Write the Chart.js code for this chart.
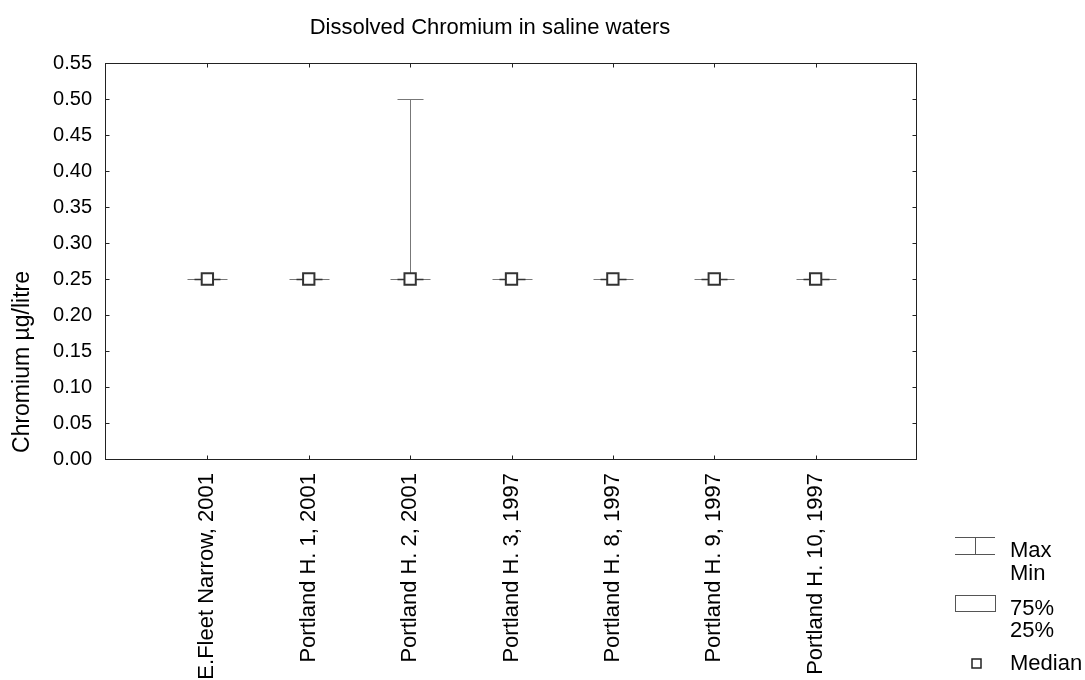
<!DOCTYPE html>
<html>
<head>
<meta charset="utf-8">
<script src="https://cdn.jsdelivr.net/npm/chart.js@4/dist/chart.umd.min.js"></script>
<style>
  html, body { margin: 0; padding: 0; background: #fff; }
  #wrap { width: 1085px; height: 680px; position: relative; }
</style>
</head>
<body>
<div id="wrap"><canvas id="c"></canvas></div>
<script>
// ---- data ----
const chartTitle = 'Dissolved Chromium in saline waters';
const yAxisTitle = 'Chromium µg/litre';
const categories = ['E.Fleet Narrow, 2001', 'Portland H. 1, 2001', 'Portland H. 2, 2001', 'Portland H. 3, 1997', 'Portland H. 8, 1997', 'Portland H. 9, 1997', 'Portland H. 10, 1997'];
const minVals    = [0.25, 0.25, 0.25, 0.25, 0.25, 0.25, 0.25];
const q1Vals     = [0.25, 0.25, 0.25, 0.25, 0.25, 0.25, 0.25];
const medianVals = [0.25, 0.25, 0.25, 0.25, 0.25, 0.25, 0.25];
const q3Vals     = [0.25, 0.25, 0.25, 0.25, 0.25, 0.25, 0.25];
const maxVals    = [0.25, 0.25, 0.50, 0.25, 0.25, 0.25, 0.25];
const yTicks     = [0, 0.05, 0.10, 0.15, 0.20, 0.25, 0.30, 0.35, 0.40, 0.45, 0.50, 0.55];
const legendLabels = [['Max', 'Min'], ['75%', '25%'], ['Median']];

const FONT = '"Liberation Sans", Arial, Helvetica, sans-serif';

const boxPlugin = {
  id: 'boxPlugin',
  beforeDatasetsDraw(chart) {
    const ctx = chart.ctx, xs = chart.scales.x, ys = chart.scales.y;
    ctx.save();
    categories.forEach((c, i) => {
      const px = Math.round(xs.getPixelForValue(i + 1)) + 0.5;
      const pMin = Math.round(ys.getPixelForValue(minVals[i])) + 0.5;
      const pMax = Math.round(ys.getPixelForValue(maxVals[i])) + 0.5;
      const pQ1 = Math.round(ys.getPixelForValue(q1Vals[i])) + 0.5;
      const pQ3 = Math.round(ys.getPixelForValue(q3Vals[i])) + 0.5;
      // whisker
      ctx.strokeStyle = '#777';
      ctx.lineWidth = 1;
      ctx.beginPath();
      ctx.moveTo(px, pMax); ctx.lineTo(px, pMin);
      ctx.moveTo(px - 20, pMin); ctx.lineTo(px + 20, pMin);
      ctx.moveTo(px - 13, pMax); ctx.lineTo(px + 13, pMax);
      ctx.stroke();
      // box
      ctx.strokeStyle = '#333';
      ctx.lineWidth = 1.5;
      ctx.fillStyle = '#fff';
      ctx.beginPath();
      ctx.rect(px - 13, pQ3, 26, pQ1 - pQ3);
      if (pQ1 - pQ3 > 0) ctx.fill();
      ctx.stroke();
    });
    ctx.restore();
  },
  afterDraw(chart) {
    const ctx = chart.ctx, a = chart.chartArea, xs = chart.scales.x, ys = chart.scales.y;
    ctx.save();
    // frame
    ctx.strokeStyle = '#222';
    ctx.lineWidth = 1;
    const L = Math.round(a.left) - 0.5, R = Math.round(a.right) - 0.5, T = Math.round(a.top) + 0.5, B = Math.round(a.bottom) + 0.5;
    ctx.strokeRect(L, T, R - L, B - T);
    ctx.beginPath();
    yTicks.forEach(v => {
      const py = Math.round(ys.getPixelForValue(v)) + 0.5;
      ctx.moveTo(L, py); ctx.lineTo(L + 4, py);
      ctx.moveTo(R, py); ctx.lineTo(R - 4, py);
    });
    categories.forEach((c, i) => {
      const px = Math.round(xs.getPixelForValue(i + 1)) + 0.5;
      ctx.moveTo(px, B); ctx.lineTo(px, B - 4);
      ctx.moveTo(px, T); ctx.lineTo(px, T + 4);
    });
    ctx.stroke();

    // title
    ctx.fillStyle = '#000';
    ctx.font = '22px ' + FONT;
    ctx.textAlign = 'center';
    ctx.textBaseline = 'alphabetic';
    ctx.fillText(chartTitle, 490, 34);

    // y axis title
    ctx.save();
    ctx.font = '23px ' + FONT;
    ctx.translate(29, 362);
    ctx.rotate(-Math.PI / 2);
    ctx.fillText(yAxisTitle, 0, 0);
    ctx.restore();

    // legend
    ctx.textAlign = 'left';
    ctx.font = '22px ' + FONT;
    ctx.fillText(legendLabels[0][0], 1010, 557);
    ctx.fillText(legendLabels[0][1], 1010, 580);
    ctx.fillText(legendLabels[1][0], 1010, 615);
    ctx.fillText(legendLabels[1][1], 1010, 637);
    ctx.fillText(legendLabels[2][0], 1010, 670);

    ctx.strokeStyle = '#555';
    ctx.lineWidth = 1;
    ctx.beginPath();
    ctx.moveTo(955, 537.5); ctx.lineTo(995, 537.5);
    ctx.moveTo(955, 554.5); ctx.lineTo(995, 554.5);
    ctx.moveTo(975.5, 537.5); ctx.lineTo(975.5, 554.5);
    ctx.stroke();
    ctx.strokeRect(955.5, 595.5, 40, 16);
    ctx.strokeStyle = '#222';
    ctx.lineWidth = 1.5;
    ctx.strokeRect(972, 659, 9, 9);
    ctx.restore();
  }
};

new Chart(document.getElementById('c'), {
  type: 'scatter',
  data: {
    datasets: [{
      label: 'Median',
      data: medianVals.map((v, i) => ({ x: i + 1, y: v })),
      pointStyle: 'rect',
      radius: 8,
      borderWidth: 2,
      borderColor: '#333',
      backgroundColor: '#fff'
    }]
  },
  options: {
    responsive: true,
    maintainAspectRatio: false,
    animation: false,
    devicePixelRatio: 1,
    layout: { padding: { left: 0, right: 168, top: 63, bottom: 0 } },
    plugins: { legend: { display: false }, title: { display: false }, tooltip: { enabled: false } },
    scales: {
      x: {
        type: 'linear', min: 0, max: 8, position: 'bottom',
        afterBuildTicks: s => { s.ticks = categories.map((c, i) => ({ value: i + 1 })); },
        afterFit: s => { s.height = 221; },
        grid: { display: false, drawTicks: false },
        border: { display: false },
        ticks: {
          autoSkip: false, minRotation: 90, maxRotation: 90, padding: 14,
          color: '#000', font: { family: FONT, size: 22 },
          callback: v => categories[Math.round(v) - 1] ?? ''
        }
      },
      y: {
        min: 0, max: 0.55,
        afterBuildTicks: s => { s.ticks = yTicks.map(v => ({ value: v })); },
        afterFit: s => { s.width = 106; },
        grid: { display: false, drawTicks: false },
        border: { display: false },
        ticks: {
          padding: 14, color: '#000', font: { family: FONT, size: 20 },
          callback: v => Number(v).toFixed(2)
        }
      }
    }
  },
  plugins: [boxPlugin]
});
</script>
</body>
</html>
